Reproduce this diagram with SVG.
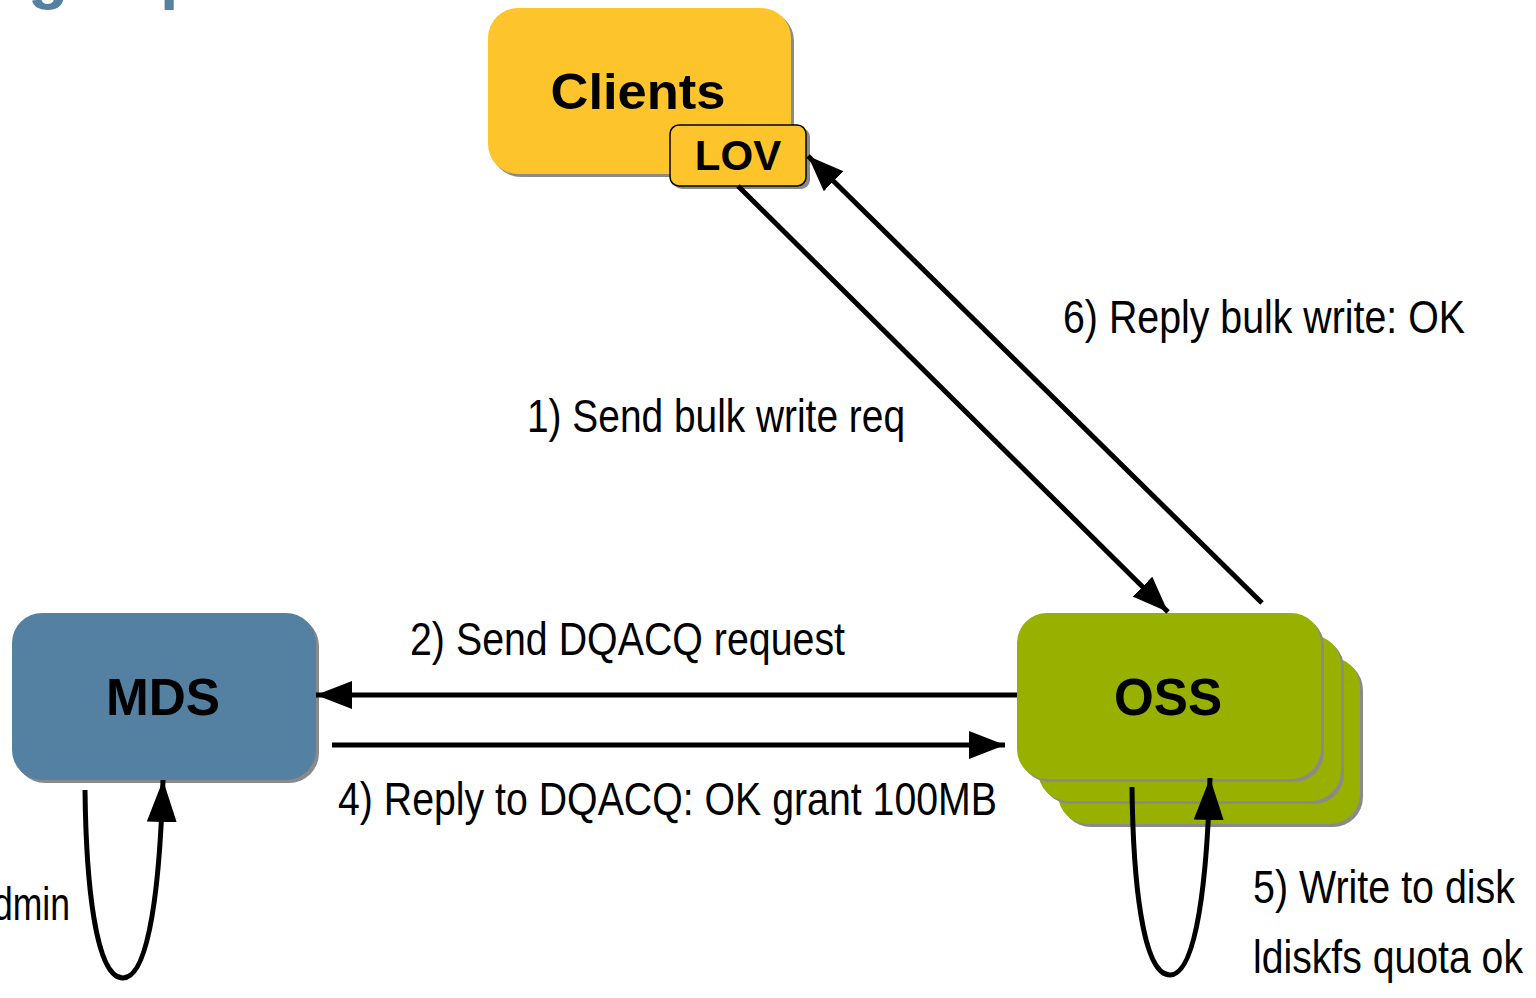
<svg xmlns="http://www.w3.org/2000/svg" width="1536" height="998" viewBox="0 0 1536 998">
<defs>
<style>
.shadow{fill:#8a8a8a}
.yel{fill:#FDC52B}
.mds{fill:#5481A1}
.oss{fill:#98B000}
.title{font-family:"Liberation Sans",Arial,sans-serif;font-weight:bold;fill:#000;text-anchor:middle}
.lbl{font-family:"Liberation Sans Narrow","Liberation Sans",Arial,sans-serif;font-size:46px;fill:#000}
.conn{fill:none;stroke:#000;stroke-width:5}
</style>
<marker id="ah" markerUnits="userSpaceOnUse" markerWidth="40" markerHeight="30" refX="36" refY="14" orient="auto">
<path d="M0,0 L36,14 L0,28 Z" fill="#000"/>
</marker>
<marker id="ah2" markerUnits="userSpaceOnUse" markerWidth="46" markerHeight="32" refX="42" refY="15" orient="auto">
<path d="M0,0 L42,15 L0,30 Z" fill="#000"/>
</marker>
</defs>
<rect width="1536" height="998" fill="#fff"/>
<g id="title-fragment" font-family="'Liberation Sans',Arial,sans-serif" font-weight="bold" font-size="66" fill="#5481A1">
<text x="28" y="-4">g</text>
<text x="160" y="-4">p</text>
</g>
<g id="clients">
<rect class="shadow" x="491" y="11" width="303" height="166" rx="30"/>
<rect class="yel" x="488" y="8" width="303" height="166" rx="30"/>
<text class="title" x="638" y="109" font-size="50" textLength="175" lengthAdjust="spacingAndGlyphs">Clients</text>
</g>
<g id="lov">
<rect class="shadow" x="673" y="128" width="137" height="61" rx="9"/>
<rect class="yel" x="670" y="125" width="136" height="61" rx="9" stroke="#000" stroke-width="1.5"/>
<text class="title" x="738" y="170" font-size="42">LOV</text>
</g>
<g id="mds">
<rect class="shadow" x="15" y="616" width="304" height="167" rx="30"/>
<rect class="mds" x="12" y="613" width="304" height="167" rx="30"/>
<text class="title" x="163" y="715" font-size="51" textLength="114" lengthAdjust="spacingAndGlyphs">MDS</text>
</g>
<g id="oss">
<rect class="shadow" x="1061" y="660" width="302" height="167" rx="30"/>
<rect class="oss" x="1058" y="657" width="302" height="167" rx="30"/>
<rect class="shadow" x="1041" y="638" width="303" height="166" rx="30"/>
<rect class="oss" x="1038" y="635" width="303" height="166" rx="30"/>
<rect class="shadow" x="1020" y="616" width="304" height="166" rx="30"/>
<rect class="oss" x="1017" y="613" width="304" height="166" rx="30"/>
<text class="title" x="1168" y="715" font-size="51" textLength="108" lengthAdjust="spacingAndGlyphs">OSS</text>
</g>
<g id="connectors">
<path class="conn" d="M738,186 L1168,612" marker-end="url(#ah)"/>
<path class="conn" d="M1262,603 L808,156" marker-end="url(#ah)"/>
<path class="conn" d="M1017,695 L316,695" marker-end="url(#ah)"/>
<path class="conn" d="M332,745 L1005,745" marker-end="url(#ah)"/>
<path class="conn" d="M85,790 C86,880 95,978 123,978 C150,978 160,880 163,780" marker-end="url(#ah2)"/>
<path class="conn" d="M1132,787 C1133,877 1142,975 1170,975 C1197,975 1207,877 1210,778" marker-end="url(#ah2)"/>
</g>
<g id="labels">
<text class="lbl" x="527" y="432" textLength="378" lengthAdjust="spacingAndGlyphs">1) Send bulk write req</text>
<text class="lbl" x="1063" y="333" textLength="402" lengthAdjust="spacingAndGlyphs">6) Reply bulk write: OK</text>
<text class="lbl" x="410" y="655" textLength="435" lengthAdjust="spacingAndGlyphs">2) Send DQACQ request</text>
<text class="lbl" x="338" y="815" textLength="659" lengthAdjust="spacingAndGlyphs">4) Reply to DQACQ: OK grant 100MB</text>
<text class="lbl" x="1253" y="903" textLength="262" lengthAdjust="spacingAndGlyphs">5) Write to disk</text>
<text class="lbl" x="1253" y="973" textLength="270" lengthAdjust="spacingAndGlyphs">ldiskfs quota ok</text>
<text class="lbl" x="-7" y="920" textLength="77" lengthAdjust="spacingAndGlyphs">dmin</text>
</g>
</svg>
